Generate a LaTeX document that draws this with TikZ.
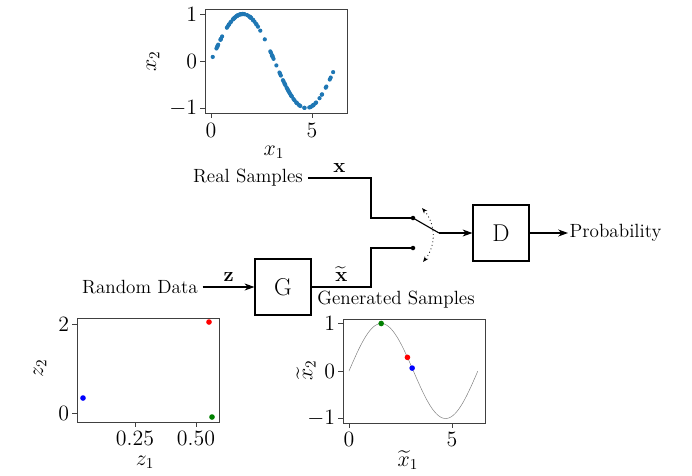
\documentclass[tikz,border=0pt]{standalone}
\usepackage{amsmath}
\usepackage{amssymb}
\usetikzlibrary{arrows.meta}

\definecolor{tabblue}{RGB}{31,119,180}
\definecolor{dkgreen}{RGB}{0,128,0}

\begin{document}
\begin{tikzpicture}[x=0.025cm,y=-0.025cm,>={Stealth[length=7pt,width=5pt]},
    blk/.style={draw,thick,minimum size=1.4cm,font=\fontsize{17.28}{20}\selectfont},
    lbl/.style={font=\fontsize{13.6}{16}\selectfont},
    tck/.style={font=\fontsize{14.4}{17}\selectfont,inner sep=1pt,scale=1.08},
    frm/.style={draw=black!75,line width=0.6pt}]
  \useasboundingbox (0,0) rectangle (692,475);

  % real samples plot
  \draw[frm] (205,9) rectangle (347,113);
  \foreach \yy/\t in {14/1,61/0,108/-1} {
    \draw[frm] (200,\yy) -- (205,\yy);
    \node[tck,anchor=east] at (199,\yy) {$\t$};
  }
  \foreach \xx/\t in {211/0,312/5} {
    \draw[frm] (\xx,113) -- (\xx,118);
    \node[tck] at (\xx,130) {$\t$};
  }
  \node[tck] at (274,152) {$x_1$};
  \node[tck,rotate=90] at (153,61) {$x_2$};
  \begin{scope}[shift={(211,61)},x=0.505cm,y=1.175cm]
    \pgfmathsetseed{11}
    \foreach \i in {1,...,110} {
      \pgfmathsetmacro\t{0.05+6.2*rnd}
      \fill[tabblue] (\t,{sin(\t r)}) circle (1.5pt);
    }
  \end{scope}

  % latent plot
  \draw[frm] (77,318) rectangle (219,422);
  \foreach \yy/\t in {324/2,413/0} {
    \draw[frm] (72,\yy) -- (77,\yy);
    \node[tck,anchor=east] at (71,\yy) {$\t$};
  }
  \foreach \xx/\t in {135/0.25,196/0.50} {
    \draw[frm] (\xx,422) -- (\xx,427);
    \node[tck] at (\xx,438) {$\t$};
  }
  \node[tck] at (145,462) {$z_1$};
  \node[tck,rotate=90] at (40,368) {$z_2$};
  \fill[blue] (83,398) circle (2pt);
  \fill[red] (209,322) circle (2pt);
  \fill[dkgreen] (212,417) circle (2pt);

  % generated samples plot
  \draw[frm] (343,319) rectangle (485,423);
  \foreach \yy/\t in {323/1,371/0,418/-1} {
    \draw[frm] (338,\yy) -- (343,\yy);
    \node[tck,anchor=east] at (337,\yy) {$\t$};
  }
  \foreach \xx/\t in {349/0,452/5} {
    \draw[frm] (\xx,423) -- (\xx,428);
    \node[tck] at (\xx,439) {$\t$};
  }
  \node[tck] at (408,460) {$\widetilde{x}_1$};
  \node[tck,rotate=90] at (306,370) {$\widetilde{x}_2$};
  \begin{scope}[shift={(349,371)},x=0.5125cm,y=1.1875cm]
    \draw[gray,line width=0.35pt] plot[domain=0:6.28,samples=90,smooth] (\x,{sin(\x r)});
    \fill[dkgreen] (1.57,1) circle (2pt);
    \fill[red] (2.85,{sin(2.85 r)}) circle (2pt);
    \fill[blue] (3.08,{sin(3.08 r)}) circle (2pt);
  \end{scope}

  % network
  \node[lbl] (real) at (248,178) {Real Samples};
  \node[lbl] (rand) at (140,287) {Random Data};
  \node[blk] (G) at (283,287) {G};
  \node[blk] (D) at (501,233) {D};
  \node[lbl,anchor=west,inner sep=1pt] (prob) at (568,233) {Probability};
  \node[lbl] (gens) at (396,300) {Generated Samples};
  \coordinate (xk) at (371,178);
  \coordinate (gk) at (371,287);
  \coordinate (up) at (413,218);
  \coordinate (lo) at (413,248);
  \coordinate (piv) at (439,233);
  \coordinate (sw1) at (422,208);
  \coordinate (sw2) at (423,262);

  \draw[thick] (real.east) -- node[above,lbl] {$\mathbf{x}$} (xk) |- (up);
  \draw[thick,->] (rand.east) -- node[above,lbl] {$\mathbf{z}$} (G);
  \draw[thick] (G.east) -- node[above,lbl] {$\widetilde{\mathbf{x}}$} (gk) |- (lo);
  \fill (up) circle (1.6pt);
  \fill (lo) circle (1.6pt);
  \draw[thick] (up) -- (piv);
  \draw[thick,->] (piv) -- (D);
  \draw[thick,->] (D) -- (prob);
  \draw[dotted,semithick,{Stealth[length=4pt]}-{Stealth[length=4pt]}] (sw1) to[bend left=40] (sw2);
\end{tikzpicture}
\end{document}
